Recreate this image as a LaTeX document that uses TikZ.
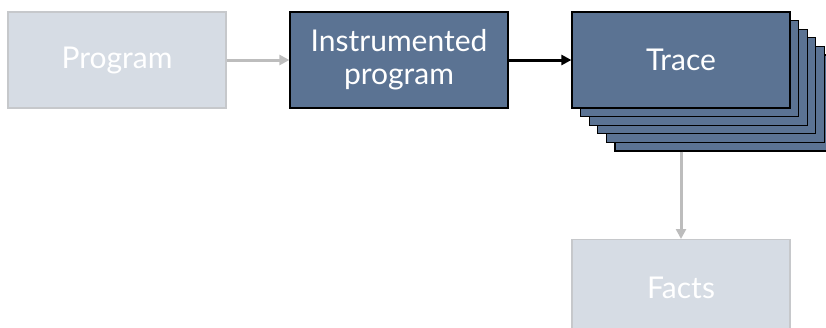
\documentclass[tikz,border=0pt]{standalone}
\usepackage{fontspec}
\setmainfont{Lato}
\usetikzlibrary{arrows.meta}
\definecolor{lightfill}{HTML}{D6DCE4}
\definecolor{lightedge}{HTML}{C6C8CB}
\definecolor{darkfill}{HTML}{5B7393}
\definecolor{grayarrow}{HTML}{BDBDBD}
\tikzset{
  lightbox/.style={draw=lightedge, line width=1.2pt, fill=lightfill, minimum width=218pt, minimum height=96pt, inner sep=0pt, text=white, font=\fontsize{30}{33}\selectfont, align=center},
  darkbox/.style={draw=black, line width=1.2pt, fill=darkfill, minimum width=218pt, minimum height=96pt, inner sep=0pt, text=white, font=\fontsize{30}{33}\selectfont, align=center},
  grayarr/.style={draw=grayarrow, line width=3pt, -{Triangle[length=10pt,width=10pt]}},
  blackarr/.style={draw=black, line width=3pt, -{Triangle[length=10pt,width=10pt]}}
}
\begin{document}
\begin{tikzpicture}[x=1pt,y=-1pt]
\useasboundingbox (0,0) rectangle (826,327);
\begin{scope}
\clip (0,0) rectangle (826,327);
\node[lightbox] (prog) at (117,60) {Program};
\node[darkbox] (instr) at (399,60) {Instrumented\\program};
\foreach \i in {5,4,3,2,1} {
  \node[darkbox] (t\i) at ({681+8.6*\i},{60+8.6*\i}) {};
}
\node[darkbox] (trace) at (681,60) {Trace};
\node[lightbox, anchor=north] (facts) at (681,239) {Facts};
\draw[grayarr] (prog.east) -- (instr.west);
\draw[blackarr] (instr.east) -- (trace.west);
\draw[grayarr] (t5.south -| trace.south) -- (facts.north);
\end{scope}
\end{tikzpicture}
\end{document}
